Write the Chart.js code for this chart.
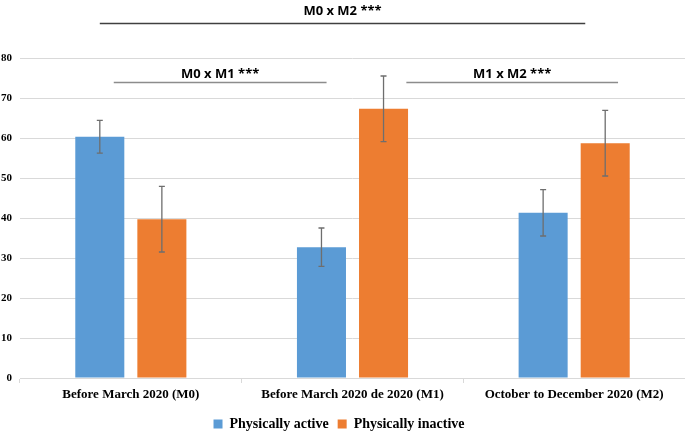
<!DOCTYPE html>
<html>
<head>
<meta charset="utf-8">
<script src="https://cdn.jsdelivr.net/npm/chart.js@4"></script>
<style>
  html, body { margin: 0; padding: 0; background: #fff; }
  #wrap { width: 685px; height: 432px; }
</style>
</head>
<body>
<div id="wrap"><canvas id="chart"></canvas></div>
<script>
// --- data ---
const categories = ['Before March 2020 (M0)', 'Before March 2020 de 2020 (M1)', 'October to December 2020 (M2)'];
const activeValues = [60.3, 32.7, 41.3];
const inactiveValues = [39.7, 67.3, 58.7];
const activeErrors = [4.1, 4.8, 5.8];
const inactiveErrors = [8.2, 8.2, 8.2];
const yTicks = [0, 10, 20, 30, 40, 50, 60, 70, 80];

// comparison brackets: label, from/to (category index), y of line and label (axis units)
const comparisons = [
  { text: 'M0 x M2 ***', from: -0.14, to: 2.05, lineY: 88.75, textY: 91.8, color: '#404040' },
  { text: 'M0 x M1 ***', from: -0.077, to: 0.883, lineY: 73.9, textY: 75.9, color: '#8c8c8c' },
  { text: 'M1 x M2 ***', from: 1.243, to: 2.198, lineY: 73.9, textY: 75.9, color: '#8c8c8c' }
];

// error bars drawn on top of each bar
const errorBars = {
  id: 'errorBars',
  afterDatasetsDraw(chart) {
    const ctx = chart.ctx;
    const y = chart.scales.y;
    const errs = [activeErrors, inactiveErrors];
    ctx.save();
    ctx.strokeStyle = '#6e6e6e';
    ctx.lineWidth = 1.3;
    chart.data.datasets.forEach((ds, i) => {
      chart.getDatasetMeta(i).data.forEach((bar, j) => {
        const v = ds.data[j];
        const top = y.getPixelForValue(v + errs[i][j]);
        const bot = y.getPixelForValue(v - errs[i][j]);
        ctx.beginPath();
        ctx.moveTo(bar.x, top); ctx.lineTo(bar.x, bot);
        ctx.moveTo(bar.x - 3, top); ctx.lineTo(bar.x + 3, top);
        ctx.moveTo(bar.x - 3, bot); ctx.lineTo(bar.x + 3, bot);
        ctx.stroke();
      });
    });
    ctx.restore();
  }
};

const brackets = {
  id: 'brackets',
  afterDraw(chart) {
    const ctx = chart.ctx;
    const x = chart.scales.x, y = chart.scales.y;
    ctx.save();
    comparisons.forEach(c => {
      const x1 = x.getPixelForValue(c.from), x2 = x.getPixelForValue(c.to);
      const ly = Math.round(y.getPixelForValue(c.lineY)) + 0.5;
      ctx.strokeStyle = c.color;
      ctx.lineWidth = 1.5;
      ctx.beginPath(); ctx.moveTo(x1, ly); ctx.lineTo(x2, ly); ctx.stroke();
      ctx.fillStyle = '#000';
      ctx.font = 'bold 13px "Open Sans"';
      ctx.textAlign = 'center';
      ctx.textBaseline = 'middle';
      ctx.fillText(c.text, (x1 + x2) / 2, y.getPixelForValue(c.textY));
    });
    ctx.restore();
  }
};

new Chart(document.getElementById('chart'), {
  type: 'bar',
  data: {
    labels: categories,
    datasets: [
      { label: 'Physically active', data: activeValues, backgroundColor: '#5b9bd5' },
      { label: 'Physically inactive', data: inactiveValues, backgroundColor: '#ed7d31' }
    ]
  },
  options: {
    responsive: true,
    maintainAspectRatio: false,
    animation: false,
    categoryPercentage: 0.56,
    barPercentage: 0.79,
    layout: { padding: { top: 58, right: 0, left: 0, bottom: -9 } },
    plugins: {
      tooltip: { enabled: false },
      legend: {
        position: 'bottom',
        labels: {
          boxWidth: 9, boxHeight: 9, padding: 2, color: '#000',
          font: { family: '"Liberation Serif"', size: 14, weight: 'bold' },
          generateLabels(chart) {
            const items = Chart.defaults.plugins.legend.labels.generateLabels(chart);
            items.forEach(it => { it.text = it.text + '  '; });
            return items;
          }
        }
      }
    },
    scales: {
      x: {
        grid: { drawOnChartArea: false, color: '#d9d9d9', tickLength: 5 },
        border: { color: '#d9d9d9' },
        ticks: { color: '#000', padding: 4, maxRotation: 0, font: { family: '"Liberation Serif"', size: 13, weight: 'bold' } },
        afterFit(s) { s.height = 37; }
      },
      y: {
        min: 0, max: 80,
        afterBuildTicks(s) { s.ticks = yTicks.map(v => ({ value: v })); },
        grid: { color: '#d9d9d9', drawTicks: false },
        border: { display: false },
        ticks: { color: '#000', padding: 8, font: { family: '"Liberation Serif"', size: 11, weight: 'bold' } },
        afterFit(s) { s.width = 20; }
      }
    }
  },
  plugins: [errorBars, brackets]
});
</script>
</body>
</html>
